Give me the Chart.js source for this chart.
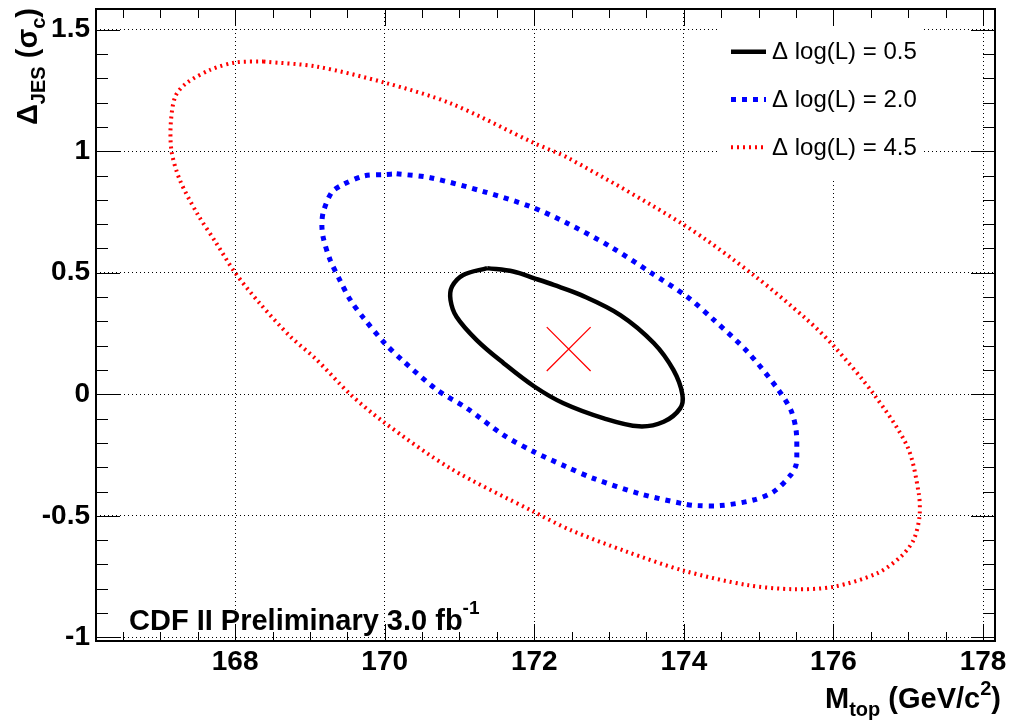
<!DOCTYPE html>
<html>
<head>
<meta charset="utf-8">
<script src="https://cdn.jsdelivr.net/npm/chart.js@4.4.0/dist/chart.umd.min.js"></script>
<style>
  html, body { margin: 0; padding: 0; background: #fff; }
  #wrap { width: 1011px; height: 723px; }
</style>
</head>
<body>
<div id="wrap"><canvas id="c" width="1011" height="723"></canvas></div>
<script>
const FONT = "'Liberation Sans', Arial, Helvetica, sans-serif";

// axis ticks
const xTicks = [168, 170, 172, 174, 176, 178];
const yTicks = [-1, -0.5, 0, 0.5, 1, 1.5];

const legendLabels = ["\u0394 log(L) = 0.5", "\u0394 log(L) = 2.0", "\u0394 log(L) = 4.5"];

// contour dlogL = 0.5 (clockwise from the top)
const c05x = [171.37, 171.72, 172.0, 172.26, 172.62, 173.15, 173.6, 173.86, 173.98, 173.95, 173.73, 173.4,
  172.93, 172.39, 172.0, 171.59, 171.23, 170.96, 170.88, 170.9, 171.05, 171.37];
const c05y = [0.519, 0.505, 0.477, 0.45, 0.409, 0.326, 0.21, 0.1, 0.0, -0.058, -0.113, -0.132,
  -0.099, -0.037, 0.032, 0.128, 0.223, 0.319, 0.388, 0.443, 0.491, 0.519];

// contour dlogL = 2.0
const c20x = [170.16, 170.61, 171.32, 171.95, 172.42, 173.02, 173.57, 174.04, 174.4, 174.85, 175.25, 175.43,
  175.5, 175.51, 175.5, 175.43, 175.2, 174.93, 174.49, 174.18, 174.0, 173.42, 172.79, 172.42, 171.99,
  171.59, 171.1, 170.7, 170.25, 170.0, 169.72, 169.54, 169.4, 169.27, 169.18, 169.16, 169.18, 169.29,
  169.43, 169.72, 170.0, 170.16];
const c20y = [0.907, 0.891, 0.834, 0.772, 0.707, 0.607, 0.498, 0.402, 0.306, 0.175, 0.024, -0.065,
  -0.147, -0.243, -0.291, -0.332, -0.401, -0.435, -0.458, -0.458, -0.451, -0.41, -0.346, -0.297, -0.236,
  -0.168, -0.058, 0.018, 0.136, 0.21, 0.313, 0.388, 0.47, 0.553, 0.642, 0.697, 0.751, 0.83,
  0.861, 0.898, 0.904, 0.907];

// contour dlogL = 4.5
const c45x = [168.38, 169.09, 170.0, 170.88, 172.0, 172.46, 174.0, 174.93, 175.65, 176.0, 176.54, 176.99,
  177.14, 177.15, 177.07, 176.9, 176.58, 176.0, 175.47, 174.85, 174.0, 173.24, 172.48, 171.99, 170.88,
  169.98, 169.54, 169.07, 168.74, 168.33, 168.0, 167.75, 167.49, 167.26, 167.15, 167.14, 167.2, 167.35,
  167.67, 168.0, 168.38];
const c45y = [1.369, 1.348, 1.282, 1.197, 1.033, 0.971, 0.697, 0.491, 0.306, 0.2, 0.0, -0.216,
  -0.407, -0.504, -0.6, -0.668, -0.737, -0.792, -0.802, -0.785, -0.726, -0.648, -0.558, -0.483, -0.305,
  -0.113, 0.0, 0.148, 0.237, 0.374, 0.5, 0.621, 0.745, 0.882, 1.0, 1.115, 1.225, 1.28,
  1.335, 1.365, 1.369];

// best fit point
const bestX = [172.46];
const bestY = [0.186];

const pts = (xs, ys) => xs.map((v, i) => ({ x: v, y: ys[i] }));

const minorTicks = (min, max, step) => {
  const out = [];
  for (let v = Math.ceil(min / step) * step; v <= max + 1e-9; v += step) out.push(+v.toFixed(3));
  return out;
};

// draws a run of text pieces (normal / sub / sup) starting at x along the baseline
function drawPieces(ctx, pieces, x, y) {
  let cx = x;
  pieces.forEach(p => {
    ctx.font = "bold " + p.size + "px " + FONT;
    ctx.fillText(p.t, cx, y + (p.dy || 0));
    cx += ctx.measureText(p.t).width;
  });
}
function piecesWidth(ctx, pieces) {
  let w = 0;
  pieces.forEach(p => {
    ctx.font = "bold " + p.size + "px " + FONT;
    w += ctx.measureText(p.t).width;
  });
  return w;
}

const decor = {
  id: "decor",
  afterDatasetsDraw(chart) {
    const { ctx, chartArea: a, scales: { x, y } } = chart;
    ctx.save();

    // legend
    ctx.fillStyle = "#fff";
    ctx.fillRect(720, a.top + 2, 202, 168);
    chart.data.datasets.slice(0, 3).forEach((ds, i) => {
      const ry = 51.7 + i * 47.8;
      ctx.save();
      ctx.strokeStyle = ds.borderColor;
      ctx.lineWidth = ds.borderWidth;
      ctx.setLineDash(ds.borderDash || []);
      ctx.beginPath();
      ctx.moveTo(731, ry);
      ctx.lineTo(766, ry);
      ctx.stroke();
      ctx.restore();
      ctx.fillStyle = "#000";
      ctx.font = "24px " + FONT;
      ctx.textBaseline = "middle";
      ctx.textAlign = "left";
      ctx.fillText(legendLabels[i], 772, ry + 1);
    });

    // ticks on all four sides, pointing inward
    ctx.strokeStyle = "#000";
    ctx.lineWidth = 1;
    ctx.beginPath();
    minorTicks(x.min, x.max, 0.5).forEach(v => {
      const len = xTicks.includes(v) ? 17 : 9;
      const px = Math.round(x.getPixelForValue(v)) + 0.5;
      ctx.moveTo(px, a.bottom); ctx.lineTo(px, a.bottom - len);
      ctx.moveTo(px, a.top); ctx.lineTo(px, a.top + len);
    });
    minorTicks(y.min, y.max, 0.1).forEach(v => {
      const len = yTicks.some(t => Math.abs(t - v) < 1e-6) ? 24 : 12;
      const py = Math.round(y.getPixelForValue(v)) + 0.5;
      ctx.moveTo(a.left, py); ctx.lineTo(a.left + len, py);
      ctx.moveTo(a.right, py); ctx.lineTo(a.right - len, py);
    });
    ctx.stroke();

    // frame
    ctx.lineWidth = 2;
    ctx.strokeRect(a.left, a.top, a.right - a.left, a.bottom - a.top);

    // CDF label
    ctx.fillStyle = "#000";
    ctx.textBaseline = "alphabetic";
    ctx.textAlign = "left";
    drawPieces(ctx, [
      { t: "CDF II Preliminary 3.0 fb", size: 29 },
      { t: "-1", size: 19, dy: -16 }
    ], 129, 630);

    // x title, right aligned
    const xt = [
      { t: "M", size: 29 },
      { t: "top", size: 20, dy: 8 },
      { t: " (GeV/c", size: 29 },
      { t: "2", size: 20, dy: -13 },
      { t: ")", size: 29 }
    ];
    drawPieces(ctx, xt, 1001 - piecesWidth(ctx, xt), 708);

    // y title, rotated, right aligned to the top
    const yt = [
      { t: "\u0394", size: 29 },
      { t: "JES", size: 20, dy: 8 },
      { t: " (\u03c3", size: 29 },
      { t: "c", size: 20, dy: 8 },
      { t: ")", size: 29 }
    ];
    ctx.translate(37, 8);
    ctx.rotate(-Math.PI / 2);
    drawPieces(ctx, yt, -piecesWidth(ctx, yt), 0);

    ctx.restore();
  }
};

const tickFont = { family: FONT, size: 28, weight: "bold" };

new Chart(document.getElementById("c"), {
  type: "scatter",
  data: {
    datasets: [
      {
        label: legendLabels[0],
        data: pts(c05x, c05y),
        showLine: true,
        borderColor: "#000000",
        borderWidth: 4.5,
        tension: 0.35,
        pointRadius: 0
      },
      {
        label: legendLabels[1],
        data: pts(c20x, c20y),
        showLine: true,
        borderColor: "#0000ff",
        borderWidth: 5,
        borderDash: [5, 6],
        borderCapStyle: "butt",
        tension: 0.3,
        pointRadius: 0
      },
      {
        label: legendLabels[2],
        data: pts(c45x, c45y),
        showLine: true,
        borderColor: "#ff0000",
        borderWidth: 4,
        borderDash: [2, 4],
        borderCapStyle: "butt",
        tension: 0.3,
        pointRadius: 0
      },
      {
        label: "best fit",
        data: pts(bestX, bestY),
        showLine: false,
        pointStyle: "crossRot",
        pointRadius: 31,
        pointBorderColor: "#ff0000",
        pointBorderWidth: 1.3
      }
    ]
  },
  options: {
    responsive: false,
    animation: false,
    events: [],
    layout: { autoPadding: false, padding: { left: 0, top: 9, right: 16, bottom: 0 } },
    plugins: { legend: { display: false }, tooltip: { enabled: false } },
    scales: {
      x: {
        type: "linear",
        min: 166.14,
        max: 178.16,
        afterFit(s) { s.height = 82; },
        afterBuildTicks(s) { s.ticks = xTicks.map(v => ({ value: v })); },
        ticks: { font: tickFont, color: "#000", padding: 4, maxRotation: 0, callback: v => String(v) },
        grid: { color: "#000", lineWidth: 1, drawTicks: false },
        border: { display: false, dash: [1, 3] }
      },
      y: {
        type: "linear",
        min: -1.015,
        max: 1.585,
        afterFit(s) { s.width = 96; },
        afterBuildTicks(s) { s.ticks = yTicks.map(v => ({ value: v })); },
        // small line height keeps the top label from pushing the plot down
        ticks: { font: { ...tickFont, lineHeight: 0.1 }, color: "#000", padding: 6, callback: v => String(v) },
        grid: { color: "#000", lineWidth: 1, drawTicks: false },
        border: { display: false, dash: [1, 3] }
      }
    }
  },
  plugins: [decor]
});
</script>
</body>
</html>
